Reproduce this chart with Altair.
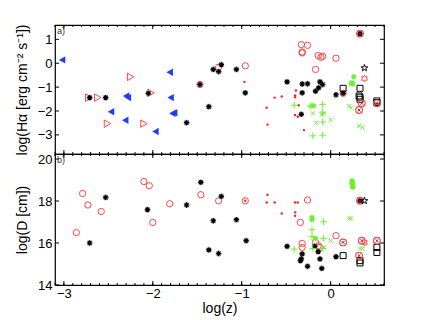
import math
import numpy as np
import pandas as pd
import altair as alt

# ---------------- data ----------------
# Top panel: log(Halpha)
blue_tri_x = [-3.02, -2.30, -2.28, -2.47, -2.31, -1.97, -1.81, -1.80, -1.76, -1.78]
blue_tri_y = [0.14, -1.37, -1.44, -2.03, -2.39, -2.86, -0.375, -1.44, -2.07, -2.10]

red_tri_x = [-2.25, -2.72, -2.62, -2.02, -2.51, -2.10]
red_tri_y = [-0.57, -1.44, -1.44, -1.24, -2.53, -2.53]

ast_a_x = [-2.71, -2.53, -2.05, -1.62, -1.47, -1.37, -1.32, -1.26, -1.23, -1.06, -0.96,
           -0.49, -0.32, -0.26, -0.12, -0.09, -0.135, -0.17, -0.32, 0.06, -0.33, 0.33, 0.14]
ast_a_y = [-1.44, -1.44, -1.26, -2.49, -0.89, -1.82, -0.26, -0.35, -0.06, -0.26, -1.24,
           -0.78, -0.87, -0.86, -0.78, -0.89, -1.03, -1.17, -1.24, -1.32, -2.14, 1.24, -1.26]

circ_a_x = [-1.47, -1.26, -0.96, -0.33, -0.26, -0.32, -0.32, -0.14, -0.11, -0.09, 0.06, -0.17, 0.14]
circ_a_y = [-0.89, -0.17, -0.11, 0.78, 0.75, 0.43, 0.47, 0.32, 0.25, 0.29, 0.21, -0.26, -1.26]

dot_a_x = [-0.97, -0.63, -0.72, -0.71, -0.55, -0.39, -0.40, -0.40, -0.36, -0.40, -0.37, -0.30]
dot_a_y = [-0.78, -1.44, -1.86, -2.57, -1.39, -1.14, -1.35, -1.42, -1.76, -2.17, -2.24, -2.80]

plus_a_x = [-0.41, -0.21, -0.23, -0.09, -0.09, -0.09, -0.20, -0.09]
plus_a_y = [-1.76, -1.76, -1.80, -1.72, -2.05, -2.46, -3.04, -3.01]

xm_a_x = [-0.21, -0.20, -0.08, -0.16, 0.00, 0.21, 0.23, 0.32, 0.36, -0.10]
xm_a_y = [-1.80, -2.10, -2.12, -2.49, -2.37, -1.79, -1.86, -2.62, -2.69, -2.15]

gast_a_x = [0.26, 0.24, 0.25, 0.23, -0.19]
gast_a_y = [-0.57, -0.82, -0.87, -0.85, -1.78]

sq_a_x = [0.14, 0.33, 0.32, 0.33, 0.33, 0.52, 0.52]
sq_a_y = [-1.05, -1.05, -1.37, -1.42, -1.51, -1.58, -1.65]

otim_a_x = [0.33, 0.35, 0.32, 0.52]
otim_a_y = [1.24, -1.68, -1.96, -1.68]

star_a_x = [0.38]
star_a_y = [-0.20]
hex_a_x = [0.38]
hex_a_y = [-0.64]

# Bottom panel: log(D)
circ_b_x = [-2.79, -2.73, -2.58, -2.86, -2.10, -2.04, -2.00, -1.81, -1.46, -1.26, -0.96,
            -0.26, -0.34, 0.06, -0.32, -0.32, -0.17, -0.14, -0.12]
circ_b_y = [18.36, 17.81, 17.50, 16.50, 18.93, 18.73, 16.98, 17.87, 18.30, 18.01, 18.01,
            18.05, 16.98, 16.35, 15.98, 15.79, 16.03, 15.87, 15.79]

ast_b_x = [-2.53, -2.71, -2.06, -1.62, -1.46, -1.23, -1.32, -1.06, -0.95, -1.37, -1.26,
           0.06, -0.49, -0.32, -0.33, -0.34, -0.26, -0.14, -0.12, -0.10, -0.18, 0.33]
ast_b_y = [18.17, 16.00, 17.59, 17.81, 18.89, 18.22, 17.06, 17.11, 16.11, 15.67, 15.50,
           15.35, 15.84, 15.48, 15.24, 15.16, 14.89, 15.59, 15.24, 14.79, 15.84, 18.01]

dot_b_x = [-0.71, -0.72, -0.63, -0.40, -0.37, -0.55, -0.40, -0.40, -0.96]
dot_b_y = [18.30, 17.93, 17.93, 17.93, 17.93, 17.41, 17.46, 17.30, 18.01]

gast_b_x = [-0.21, -0.21, -0.17, 0.24, 0.245, 0.25, 0.245, 0.25, 0.24]
gast_b_y = [17.22, 17.11, 16.22, 18.97, 18.90, 18.80, 18.70, 18.65, 18.85]

plus_b_x = [-0.08, -0.21, -0.21, -0.08, -0.41, -0.20, -0.09]
plus_b_y = [17.01, 16.63, 16.31, 16.22, 15.71, 15.74, 15.74]

xm_b_x = [0.00, 0.21, 0.23, 0.33, 0.36, -0.07, -0.21]
xm_b_y = [16.11, 17.17, 17.17, 15.74, 15.74, 15.80, 17.15]

otim_b_x = [0.14, 0.33, 0.35, 0.52, 0.32]
otim_b_y = [16.03, 18.01, 16.11, 16.11, 15.40]

hex_b_x = [0.38]
hex_b_y = [16.03]
star_b_x = [0.38]
star_b_y = [18.01]

sq_b_x = [0.52, 0.52, 0.14, 0.33, 0.33]
sq_b_y = [15.79, 15.55, 15.40, 15.16, 15.05]

x_labels = [-3, -2, -1, 0]
ya_labels = [-3, -2, -1, 0, 1]
yb_labels = [14, 16, 18, 20]

# ---------------- styling ----------------
W = 329
HA = 129
HB = 131
XDOM = [-3.1, 0.6]
YADOM = [-3.8, 1.6]
YBDOM = [14, 20.24]

RED = "#ff4545"
GREEN = "#6cf02c"
BLUE = "#1f3cff"
FONT = "Liberation Sans"

AST = "M0,-1L0,1M-1,0L1,0M-0.7,-0.7L0.7,0.7M-0.7,0.7L0.7,-0.7"
PLUS = "M0,-1L0,1M-1,0L1,0"
XM = "M-0.75,-0.75L0.75,0.75M-0.75,0.75L0.75,-0.75"


def star_path(n, r_in):
    pts = []
    for i in range(2 * n):
        r = 1.0 if i % 2 == 0 else r_in
        a = -math.pi / 2 + i * math.pi / n
        pts.append(f"{r*math.cos(a):.3f},{r*math.sin(a):.3f}")
    return "M" + "L".join(pts) + "Z"


PENTA = star_path(5, 0.4)
HEXA = star_path(6, 0.577)


def make_panel(ydom, height, ytitle, yvals, show_x, label):
    xaxis = alt.Axis(values=x_labels, format="d", ticks=False, domain=False, grid=False,
                     labels=show_x, title="log(z)" if show_x else None, labelPadding=2,
                     titlePadding=1)
    yaxis = alt.Axis(values=yvals, format="d", ticks=False, domain=False, grid=False,
                     title=ytitle, labelPadding=3, titlePadding=8)
    xs = alt.Scale(domain=XDOM, nice=False, zero=False)
    ys = alt.Scale(domain=ydom, nice=False, zero=False)

    def pts(xv, yv, **mark):
        df = pd.DataFrame({"x": xv, "y": yv})
        return alt.Chart(df).mark_point(**mark).encode(
            x=alt.X("x:Q", scale=xs, axis=xaxis),
            y=alt.Y("y:Q", scale=ys, axis=yaxis),
        )

    # ticks (inward, MATLAB style)
    minor = [round(v, 2) for v in np.arange(-3.1, 0.61, 0.1)]
    major_x = x_labels
    tick_layers = []
    for vals, ln in ((minor, 2), (major_x, 4)):
        d = pd.DataFrame({"x": vals})
        base = alt.Chart(d).mark_rule(color="black", strokeWidth=1)
        tick_layers.append(base.encode(x=alt.X("x:Q", scale=xs, axis=xaxis),
                                       y=alt.value(0), y2=alt.value(ln)))
        tick_layers.append(base.encode(x=alt.X("x:Q", scale=xs, axis=xaxis),
                                       y=alt.value(height), y2=alt.value(height - ln)))
    dy = pd.DataFrame({"y": yvals})
    basey = alt.Chart(dy).mark_rule(color="black", strokeWidth=1)
    tick_layers.append(basey.encode(y=alt.Y("y:Q", scale=ys, axis=yaxis),
                                    x=alt.value(0), x2=alt.value(4)))
    tick_layers.append(basey.encode(y=alt.Y("y:Q", scale=ys, axis=yaxis),
                                    x=alt.value(W), x2=alt.value(W - 4)))

    lab = alt.Chart(pd.DataFrame({"t": [label]})).mark_text(
        align="left", baseline="top", font=FONT, fontSize=9, color="#333"
    ).encode(x=alt.value(2), y=alt.value(2), text="t:N")

    return tick_layers, pts, lab


def ast_layers(p, xv, yv, col):
    return [
        p(xv, yv, shape="circle", filled=True, color="#9a9a9a", size=38, opacity=0.55),
        p(xv, yv, shape=AST, filled=False, color=col, size=28, strokeWidth=1.2, opacity=1),
    ]


# ---------- top panel ----------
ticks_a, pa, lab_a = make_panel(YADOM, HA, "log(Hα [erg cm⁻² s⁻¹])", ya_labels, False, "a)")
layers_a = ticks_a + [
    pa(blue_tri_x, blue_tri_y, shape="triangle-left", filled=True, color=BLUE, size=55, opacity=1),
    pa(red_tri_x, red_tri_y, shape="triangle-right", filled=False, color=RED, size=55, strokeWidth=1, opacity=1),
    pa(circ_a_x, circ_a_y, shape="circle", filled=False, color=RED, size=40, strokeWidth=1, opacity=1),
] + ast_layers(pa, ast_a_x, ast_a_y, "black") + [
    pa(dot_a_x, dot_a_y, shape="circle", filled=True, color="#ff2020", size=6, opacity=1),
    pa(plus_a_x, plus_a_y, shape=PLUS, filled=False, color=GREEN, size=45, strokeWidth=1, opacity=1),
    pa(xm_a_x, xm_a_y, shape=XM, filled=False, color=GREEN, size=30, strokeWidth=1, opacity=1),
    pa(gast_a_x, gast_a_y, shape=AST, filled=False, color=GREEN, size=30, strokeWidth=1.2, opacity=1),
    pa(sq_a_x, sq_a_y, shape="square", filled=False, color="black", size=36, strokeWidth=1, opacity=1),
    pa(otim_a_x, otim_a_y, shape="circle", filled=False, color=RED, size=45, strokeWidth=1.2, opacity=1),
    pa(otim_a_x, otim_a_y, shape=XM, filled=False, color="#444444", size=14, strokeWidth=1, opacity=1),
    pa(star_a_x, star_a_y, shape=PENTA, filled=False, color="black", size=50, strokeWidth=1, opacity=1),
    pa(hex_a_x, hex_a_y, shape=HEXA, filled=False, color=RED, size=45, strokeWidth=1, opacity=1),
    lab_a,
]
top = alt.layer(*layers_a).properties(width=W, height=HA)

# ---------- bottom panel ----------
ticks_b, pb, lab_b = make_panel(YBDOM, HB, "log(D [cm])", yb_labels, True, "b)")
layers_b = ticks_b + [
    pb(circ_b_x, circ_b_y, shape="circle", filled=False, color=RED, size=40, strokeWidth=1, opacity=1),
] + ast_layers(pb, ast_b_x, ast_b_y, "black") + [
    pb(dot_b_x, dot_b_y, shape="circle", filled=True, color="#ff2020", size=6, opacity=1),
    pb(plus_b_x, plus_b_y, shape=PLUS, filled=False, color=GREEN, size=45, strokeWidth=1, opacity=1),
    pb(xm_b_x, xm_b_y, shape=XM, filled=False, color=GREEN, size=30, strokeWidth=1, opacity=1),
    pb(gast_b_x, gast_b_y, shape=AST, filled=False, color=GREEN, size=30, strokeWidth=1.2, opacity=1),
    pb(sq_b_x, sq_b_y, shape="square", filled=False, color="black", size=36, strokeWidth=1, opacity=1),
    pb(otim_b_x, otim_b_y, shape="circle", filled=False, color=RED, size=45, strokeWidth=1.2, opacity=1),
    pb(otim_b_x, otim_b_y, shape=XM, filled=False, color="#444444", size=14, strokeWidth=1, opacity=1),
    pb(star_b_x, star_b_y, shape=PENTA, filled=False, color="black", size=50, strokeWidth=1, opacity=1),
    pb(hex_b_x, hex_b_y, shape=HEXA, filled=False, color=RED, size=45, strokeWidth=1, opacity=1),
    lab_b,
]
bottom = alt.layer(*layers_b).properties(width=W, height=HB)

chart = alt.vconcat(top, bottom, spacing=0, bounds="flush").properties(
    padding={"left": 6, "top": 15, "right": 5, "bottom": 5},
    background="white",
).configure_axis(
    labelFont=FONT, labelFontSize=13, labelColor="black",
    titleFont=FONT, titleFontSize=14, titleFontWeight="normal", titleColor="black",
).configure_view(stroke="black", strokeWidth=1.2)

chart.save("out.html", embed_options={"renderer": "svg", "actions": False})
